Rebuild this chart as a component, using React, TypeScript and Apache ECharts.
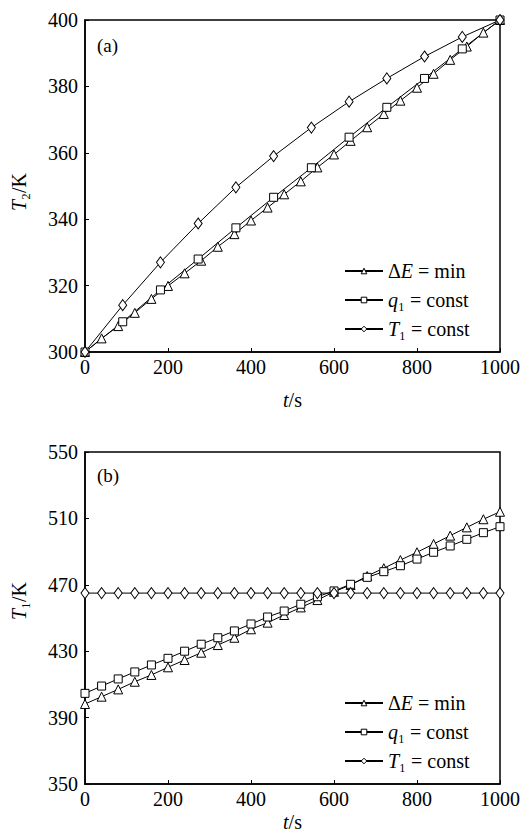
import React, { useEffect, useRef } from "react";
import * as echarts from "echarts";

// time stamps (s)
const timeFine = [0, 40, 80, 120, 160, 200, 240, 280, 320, 360, 400, 440, 480, 520, 560, 600, 640, 680, 720, 760, 800, 840, 880, 920, 960, 1000];
const timeCoarse = [0, 90.9, 181.8, 272.7, 363.6, 454.5, 545.5, 636.4, 727.3, 818.2, 909.1, 1000];

// (a) T2 / K
const t2DeltaEMin = [300, 304.1, 307.8, 311.8, 316, 319.9, 323.7, 327.5, 331.7, 335.5, 339.6, 343.5, 347.5, 351.4, 355.6, 359.5, 363.6, 367.7, 371.7, 375.7, 379.6, 383.8, 388, 392, 396.2, 400];
const t2Q1Const = [300, 309.1, 318.7, 328, 337.4, 346.6, 355.5, 364.7, 373.7, 382.4, 391.3, 400];
const t2T1Const = [300, 314.1, 327, 338.7, 349.6, 359, 367.6, 375.4, 382.4, 389, 394.9, 400];

// (b) T1 / K
const t1DeltaEMin = [398.2, 402.6, 407, 411.6, 415.7, 420.3, 424.7, 429.1, 433.7, 438.1, 443.2, 447.2, 451.8, 456.4, 460.8, 465.8, 469.9, 475.3, 480, 484.9, 489.6, 494.6, 499.6, 504.6, 509.5, 514];
const t1Q1Const = [404.6, 409, 413.3, 417.5, 421.7, 425.7, 430, 434.2, 438.1, 442.2, 446.4, 450.6, 454.2, 458.3, 462.8, 466.3, 470.3, 474.5, 477.9, 481.5, 485.5, 489.6, 493.4, 497.4, 501.4, 505];
const t1T1Const = [465, 465, 465, 465, 465, 465, 465, 465, 465, 465, 465, 465, 465, 465, 465, 465, 465, 465, 465, 465, 465, 465, 465, 465, 465, 465];

const seriesNames = ["ΔE=min", "q1=const", "T1=const"];
const legendLabels: Record<string, string> = {
  "ΔE=min": "{n|Δ}{i|E}{n| = min}",
  "q1=const": "{i|q}{n|₁ = const}",
  "T1=const": "{i|T}{n|₁ = const}",
};

const FONT = "Liberation Serif";

const zip = (xs: number[], ys: number[]) => xs.map((x, i) => [x, ys[i]]);

export default function App() {
  const ref = useRef<HTMLDivElement>(null);
  useEffect(() => {
    if (!ref.current) return;
    const chart = echarts.init(ref.current, undefined, { renderer: "svg" });
    const FS = 20;
    const richText = {
      i: { fontFamily: FONT, fontStyle: "italic", fontSize: FS, color: "#000" },
      n: { fontFamily: FONT, fontSize: FS, color: "#000" },
    };
    const mkX = (gi: number, gap: number) => ({
      gridIndex: gi,
      type: "value",
      min: 0,
      max: 1000,
      interval: 200,
      axisLine: { lineStyle: { color: "#000", width: 1.5 } },
      axisTick: { inside: true, length: 4, lineStyle: { color: "#000", width: 1 } },
      splitLine: { show: false },
      axisLabel: { color: "#000", fontFamily: FONT, fontSize: FS, margin: 5, formatter: (v: number) => String(v) },
      name: "{i|t}{n|/s}",
      nameLocation: "middle",
      nameGap: gap,
      nameTextStyle: { rich: richText },
    });
    const mkY = (gi: number, min: number, max: number, interval: number) => ({
      gridIndex: gi,
      type: "value",
      min,
      max,
      interval,
      axisLine: { show: true, lineStyle: { color: "#000", width: 1.5 } },
      axisTick: { show: true, inside: true, length: 4, lineStyle: { color: "#000", width: 1 } },
      splitLine: { show: false },
      axisLabel: { color: "#000", fontFamily: FONT, fontSize: FS, margin: 7, formatter: (v: number) => String(v) },
    });
    const lineSeries = (name: string, xi: number, data: number[][], symbol: string, size: any) => ({
      name,
      type: "line",
      xAxisIndex: xi,
      yAxisIndex: xi,
      data,
      symbol,
      symbolSize: size,
      showAllSymbol: true,
      lineStyle: { color: "#000", width: 1 },
      itemStyle: { color: "#fff", borderColor: "#000", borderWidth: 1 },
      z: 3,
    });
    const legendCommon = {
      orient: "vertical",
      left: 339,
      itemWidth: 38,
      itemHeight: 7,
      itemGap: 9,
      data: seriesNames,
      formatter: (n: string) => legendLabels[n],
      itemStyle: { color: "#fff", borderColor: "#000", borderWidth: 1 },
      textStyle: { rich: richText, fontFamily: FONT, fontSize: FS },
      selectedMode: false,
    };
    chart.setOption({
      animation: false,
      backgroundColor: "#fff",
      grid: [
        { left: 85, top: 20, width: 415, height: 332, show: true, borderColor: "#000", borderWidth: 1.5, backgroundColor: "transparent" },
        { left: 85, top: 452, width: 415, height: 332, show: true, borderColor: "#000", borderWidth: 1.5, backgroundColor: "transparent" },
      ],
      xAxis: [mkX(0, 38), mkX(1, 28)],
      yAxis: [mkY(0, 300, 400, 20), mkY(1, 350, 550, 40)],
      legend: [
        { ...legendCommon, top: 256 },
        { ...legendCommon, top: 688 },
      ],
      graphic: [
        { type: "text", x: 97, y: 45, style: { text: "(a)", font: `19px ${FONT}`, fill: "#000", textVerticalAlign: "middle" } },
        { type: "text", x: 97, y: 475, style: { text: "(b)", font: `19px ${FONT}`, fill: "#000", textVerticalAlign: "middle" } },
        {
          type: "text", x: 19, y: 192, rotation: Math.PI / 2,
          style: { text: "{i|T}{n|₂/K}", rich: richText, textAlign: "center", textVerticalAlign: "middle" },
        },
        {
          type: "text", x: 19, y: 601, rotation: Math.PI / 2,
          style: { text: "{i|T}{n|₁/K}", rich: richText, textAlign: "center", textVerticalAlign: "middle" },
        },
      ],
      series: [
        lineSeries(seriesNames[0], 0, zip(timeFine, t2DeltaEMin), "triangle", 9),
        lineSeries(seriesNames[1], 0, zip(timeCoarse, t2Q1Const), "rect", 8),
        lineSeries(seriesNames[2], 0, zip(timeCoarse, t2T1Const), "diamond", [8, 11]),
        lineSeries(seriesNames[0], 1, zip(timeFine, t1DeltaEMin), "triangle", 9),
        lineSeries(seriesNames[1], 1, zip(timeFine, t1Q1Const), "rect", 8),
        lineSeries(seriesNames[2], 1, zip(timeFine, t1T1Const), "diamond", [8, 11]),
      ],
    });
    return () => chart.dispose();
  }, []);
  return (
    <div
      ref={ref}
      style={{ position: "absolute", left: 0, top: 0, width: 531, height: 839, background: "#fff" }}
    />
  );
}
